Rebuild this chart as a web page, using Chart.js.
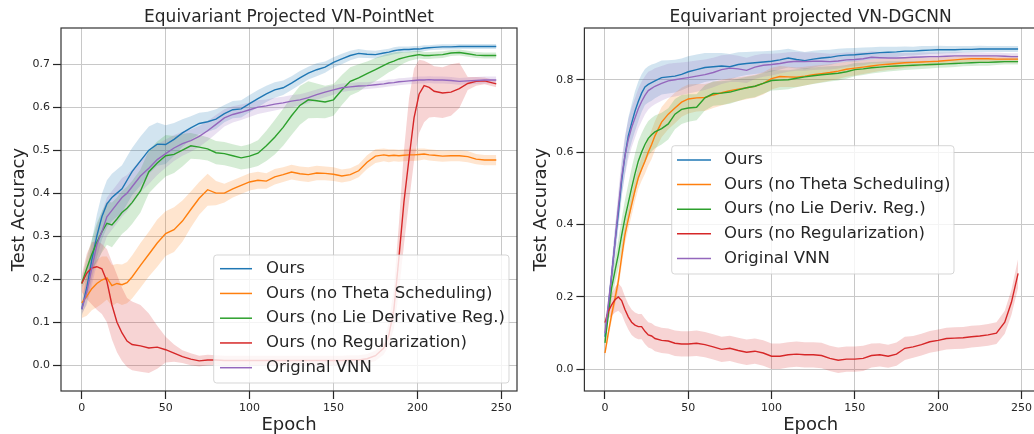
<!DOCTYPE html>
<html>
<head>
<meta charset="utf-8">
<script src="https://cdn.jsdelivr.net/npm/chart.js@4"></script>
<style>
  html, body { margin: 0; padding: 0; background: #fff; overflow: hidden; width: 1034px; height: 434px; }
  .panel { position: absolute; top: 0; width: 522px; height: 434px; }
</style>
</head>
<body>
<div class="panel" style="left:0"><canvas id="left" width="522" height="434"></canvas></div>
<div class="panel" style="left:522px"><canvas id="right" width="522" height="434"></canvas></div>
<script>
// 左: VN-PointNet / 右: VN-DGCNN。平均線と ±std の帯を図から読み取った値

const X_TICKS = [0, 50, 100, 150, 200, 250];
const L_Y_TICKS = [0, 0.1, 0.2, 0.3, 0.4, 0.5, 0.6, 0.7];
const R_Y_TICKS = [0, 0.2, 0.4, 0.6, 0.8];

const L_NAMES = ['Ours', 'Ours (no Theta Scheduling)', 'Ours (no Lie Derivative Reg.)', 'Ours (no Regularization)', 'Original VNN'];
const R_NAMES = ['Ours', 'Ours (no Theta Scheduling)', 'Ours (no Lie Deriv. Reg.)', 'Ours (no Regularization)', 'Original VNN'];

// ---- left panel ----
const L_EPOCHS = [
  0, 3, 6, 9, 12, 15, 18, 21, 24, 27,
  30, 35, 40, 45, 50, 55, 60, 65, 70, 75,
  80, 85, 90, 95, 100, 105, 110, 115, 120, 125,
  130, 135, 140, 145, 150, 155, 160, 165, 170, 175,
  180, 183, 186, 189, 192, 195, 198, 201, 204, 207,
  210, 215, 220, 225, 230, 235, 240, 247];

const L_OURS = [
  0.13, 0.18, 0.245, 0.30, 0.345, 0.375, 0.39, 0.40, 0.41, 0.43,
  0.45, 0.475, 0.50, 0.514, 0.513, 0.525, 0.54, 0.552, 0.562, 0.566,
  0.572, 0.585, 0.594, 0.596, 0.608, 0.62, 0.631, 0.64, 0.645, 0.656,
  0.668, 0.679, 0.687, 0.693, 0.704, 0.712, 0.72, 0.725, 0.723, 0.722,
  0.726, 0.728, 0.731, 0.733, 0.734, 0.734, 0.735, 0.735, 0.737, 0.738,
  0.739, 0.74, 0.74, 0.741, 0.741, 0.741, 0.741, 0.741];
const L_OURS_STD = [
  0.015, 0.035, 0.045, 0.05, 0.053, 0.055, 0.055, 0.055, 0.055, 0.055,
  0.055, 0.057, 0.055, 0.05, 0.045, 0.038, 0.032, 0.027, 0.025, 0.023,
  0.023, 0.02, 0.02, 0.02, 0.02, 0.02, 0.019, 0.018, 0.017, 0.016,
  0.016, 0.015, 0.015, 0.013, 0.012, 0.012, 0.011, 0.01, 0.009, 0.009,
  0.008, 0.008, 0.008, 0.008, 0.007, 0.007, 0.007, 0.007, 0.007, 0.006,
  0.006, 0.006, 0.006, 0.006, 0.006, 0.006, 0.006, 0.006];

const L_THETA = [
  0.145, 0.16, 0.178, 0.19, 0.198, 0.203, 0.185, 0.19, 0.187, 0.192,
  0.205, 0.232, 0.258, 0.284, 0.306, 0.315, 0.335, 0.362, 0.388, 0.408,
  0.40, 0.40, 0.41, 0.418, 0.426, 0.43, 0.428, 0.438, 0.443, 0.449,
  0.445, 0.443, 0.447, 0.446, 0.444, 0.44, 0.443, 0.452, 0.472, 0.486,
  0.489, 0.487, 0.488, 0.487, 0.488, 0.489, 0.489, 0.49, 0.491, 0.489,
  0.488, 0.486, 0.487, 0.487, 0.485, 0.479, 0.477, 0.477];
const L_THETA_STD = [
  0.035, 0.045, 0.05, 0.055, 0.055, 0.05, 0.048, 0.045, 0.047, 0.048,
  0.05, 0.052, 0.052, 0.055, 0.052, 0.052, 0.048, 0.042, 0.038, 0.037,
  0.028, 0.022, 0.02, 0.02, 0.02, 0.02, 0.018, 0.018, 0.017, 0.017,
  0.017, 0.017, 0.017, 0.016, 0.016, 0.015, 0.015, 0.015, 0.016, 0.016,
  0.015, 0.015, 0.014, 0.014, 0.014, 0.014, 0.014, 0.014, 0.013, 0.013,
  0.013, 0.013, 0.013, 0.013, 0.013, 0.012, 0.012, 0.012];

const L_LIE = [
  0.19, 0.225, 0.258, 0.285, 0.31, 0.33, 0.326, 0.34, 0.355, 0.365,
  0.378, 0.405, 0.45, 0.47, 0.487, 0.49, 0.50, 0.51, 0.507, 0.503,
  0.494, 0.492, 0.487, 0.482, 0.486, 0.493, 0.51, 0.53, 0.553, 0.58,
  0.604, 0.617, 0.615, 0.612, 0.617, 0.64, 0.66, 0.668, 0.678, 0.687,
  0.697, 0.703, 0.707, 0.712, 0.715, 0.718, 0.72, 0.722, 0.72, 0.72,
  0.721, 0.722, 0.726, 0.727, 0.724, 0.721, 0.72, 0.72];
const L_LIE_STD = [
  0.01, 0.025, 0.035, 0.045, 0.048, 0.05, 0.052, 0.05, 0.05, 0.05,
  0.05, 0.05, 0.05, 0.05, 0.048, 0.043, 0.038, 0.03, 0.028, 0.027,
  0.027, 0.027, 0.027, 0.027, 0.028, 0.03, 0.035, 0.04, 0.043, 0.045,
  0.045, 0.043, 0.04, 0.038, 0.037, 0.035, 0.033, 0.032, 0.028, 0.027,
  0.024, 0.022, 0.02, 0.017, 0.013, 0.011, 0.01, 0.009, 0.008, 0.008,
  0.008, 0.008, 0.007, 0.007, 0.007, 0.007, 0.007, 0.007];

const L_NOREG = [
  0.19, 0.214, 0.226, 0.229, 0.224, 0.195, 0.14, 0.10, 0.075, 0.056,
  0.048, 0.045, 0.04, 0.042, 0.036, 0.028, 0.02, 0.014, 0.01, 0.012,
  0.012, 0.011, 0.011, 0.011, 0.011, 0.011, 0.011, 0.011, 0.011, 0.011,
  0.011, 0.011, 0.011, 0.011, 0.011, 0.011, 0.012, 0.012, 0.015, 0.022,
  0.04, 0.07, 0.13, 0.25, 0.38, 0.48, 0.575, 0.63, 0.65, 0.646,
  0.637, 0.633, 0.635, 0.643, 0.655, 0.66, 0.661, 0.654];
// この系列だけ帯が上下非対称
const L_NOREG_UP = [
  0.02, 0.045, 0.06, 0.06, 0.058, 0.075, 0.10, 0.11, 0.105, 0.10,
  0.10, 0.095, 0.08, 0.05, 0.03, 0.02, 0.015, 0.014, 0.012, 0.012,
  0.011, 0.011, 0.011, 0.011, 0.011, 0.011, 0.011, 0.011, 0.011, 0.011,
  0.011, 0.011, 0.011, 0.011, 0.011, 0.011, 0.011, 0.011, 0.011, 0.012,
  0.015, 0.03, 0.05, 0.08, 0.12, 0.14, 0.115, 0.08, 0.058, 0.056,
  0.058, 0.06, 0.065, 0.06, 0.015, 0.01, 0.008, 0.008];
const L_NOREG_DOWN = [
  0.02, 0.06, 0.085, 0.10, 0.105, 0.095, 0.08, 0.07, 0.065, 0.06,
  0.06, 0.06, 0.058, 0.05, 0.03, 0.02, 0.015, 0.014, 0.013, 0.012,
  0.011, 0.011, 0.011, 0.011, 0.011, 0.011, 0.011, 0.011, 0.011, 0.011,
  0.011, 0.011, 0.011, 0.011, 0.011, 0.011, 0.011, 0.011, 0.011, 0.012,
  0.015, 0.025, 0.045, 0.08, 0.10, 0.10, 0.10, 0.09, 0.085, 0.07,
  0.06, 0.058, 0.055, 0.045, 0.015, 0.01, 0.008, 0.008];

const L_VNN = [
  0.13, 0.17, 0.225, 0.28, 0.31, 0.345, 0.36, 0.375, 0.39, 0.40,
  0.415, 0.44, 0.458, 0.478, 0.492, 0.505, 0.515, 0.522, 0.532, 0.545,
  0.56, 0.575, 0.583, 0.588, 0.594, 0.6, 0.603, 0.607, 0.61, 0.614,
  0.617, 0.622, 0.629, 0.635, 0.64, 0.645, 0.647, 0.649, 0.65, 0.652,
  0.654, 0.656, 0.657, 0.659, 0.66, 0.661, 0.662, 0.663, 0.663, 0.664,
  0.663, 0.663, 0.662, 0.66, 0.661, 0.662, 0.663, 0.663];
const L_VNN_STD = [
  0.01, 0.03, 0.04, 0.045, 0.045, 0.045, 0.045, 0.045, 0.045, 0.042,
  0.04, 0.038, 0.037, 0.036, 0.033, 0.03, 0.028, 0.026, 0.024, 0.023,
  0.022, 0.02, 0.019, 0.018, 0.017, 0.016, 0.015, 0.015, 0.014, 0.014,
  0.013, 0.013, 0.012, 0.012, 0.011, 0.01, 0.009, 0.009, 0.008, 0.008,
  0.008, 0.008, 0.008, 0.008, 0.008, 0.008, 0.008, 0.008, 0.008, 0.008,
  0.008, 0.008, 0.008, 0.008, 0.008, 0.008, 0.008, 0.008];

// ---- right panel ----
const R_EPOCHS = [
  0, 2, 4, 6, 8, 10, 12, 14, 16, 18,
  20, 22, 24, 26, 28, 30, 34, 38, 42, 46,
  50, 55, 60, 65, 70, 75, 80, 85, 90, 95,
  100, 105, 110, 115, 120, 125, 130, 135, 140, 145,
  150, 155, 160, 165, 170, 175, 180, 185, 190, 195,
  200, 205, 210, 215, 220, 225, 230, 235, 240, 244,
  248];

const R_OURS = [
  0.09, 0.17, 0.26, 0.35, 0.43, 0.52, 0.59, 0.645, 0.68, 0.713,
  0.74, 0.763, 0.78, 0.787, 0.792, 0.797, 0.806, 0.808, 0.81, 0.815,
  0.822, 0.828, 0.834, 0.836, 0.838, 0.836, 0.842, 0.845, 0.847, 0.849,
  0.851, 0.855, 0.86, 0.856, 0.853, 0.857, 0.86, 0.862, 0.866, 0.868,
  0.869, 0.871, 0.873, 0.875, 0.876, 0.877, 0.879, 0.879, 0.881, 0.882,
  0.883, 0.883, 0.883, 0.884, 0.884, 0.885, 0.885, 0.885, 0.885, 0.885,
  0.885];
const R_OURS_STD = [
  0.01, 0.02, 0.03, 0.04, 0.04, 0.045, 0.05, 0.05, 0.052, 0.055,
  0.055, 0.052, 0.05, 0.05, 0.05, 0.048, 0.047, 0.046, 0.045, 0.044,
  0.043, 0.042, 0.04, 0.038, 0.036, 0.035, 0.034, 0.032, 0.031, 0.03,
  0.029, 0.027, 0.026, 0.025, 0.024, 0.023, 0.022, 0.021, 0.02, 0.019,
  0.019, 0.018, 0.017, 0.016, 0.015, 0.014, 0.013, 0.012, 0.012, 0.011,
  0.011, 0.01, 0.01, 0.009, 0.009, 0.009, 0.008, 0.008, 0.008, 0.008,
  0.008];

const R_THETA = [
  0.045, 0.1, 0.151, 0.195, 0.243, 0.31, 0.372, 0.415, 0.455, 0.494,
  0.529, 0.553, 0.575, 0.6, 0.621, 0.645, 0.683, 0.705, 0.722, 0.738,
  0.747, 0.75, 0.751, 0.758, 0.764, 0.77, 0.774, 0.778, 0.782, 0.79,
  0.803, 0.809, 0.808, 0.807, 0.81, 0.814, 0.817, 0.82, 0.824, 0.829,
  0.832, 0.835, 0.838, 0.841, 0.843, 0.845, 0.847, 0.848, 0.849, 0.85,
  0.851, 0.853, 0.855, 0.857, 0.858, 0.858, 0.858, 0.857, 0.857, 0.857,
  0.857];
const R_THETA_STD = [
  0.012, 0.015, 0.018, 0.02, 0.022, 0.025, 0.025, 0.028, 0.03, 0.03,
  0.03, 0.032, 0.035, 0.037, 0.04, 0.04, 0.042, 0.042, 0.042, 0.04,
  0.04, 0.038, 0.037, 0.036, 0.035, 0.034, 0.033, 0.032, 0.032, 0.031,
  0.03, 0.029, 0.028, 0.027, 0.026, 0.025, 0.024, 0.023, 0.022, 0.021,
  0.02, 0.019, 0.018, 0.017, 0.016, 0.015, 0.014, 0.013, 0.012, 0.012,
  0.011, 0.011, 0.01, 0.01, 0.01, 0.009, 0.009, 0.009, 0.009, 0.009,
  0.009];

const R_LIE = [
  0.073, 0.15, 0.225, 0.272, 0.317, 0.37, 0.418, 0.46, 0.501, 0.54,
  0.575, 0.6, 0.621, 0.638, 0.648, 0.656, 0.665, 0.678, 0.705, 0.718,
  0.722, 0.724, 0.75, 0.762, 0.763, 0.766, 0.772, 0.778, 0.782, 0.79,
  0.798, 0.799, 0.80, 0.804, 0.808, 0.811, 0.814, 0.816, 0.818, 0.822,
  0.828, 0.83, 0.833, 0.835, 0.837, 0.838, 0.839, 0.84, 0.841, 0.842,
  0.843, 0.844, 0.845, 0.846, 0.847, 0.848, 0.848, 0.849, 0.85, 0.85,
  0.85];
const R_LIE_STD = [
  0.01, 0.02, 0.03, 0.035, 0.04, 0.045, 0.05, 0.052, 0.055, 0.055,
  0.055, 0.052, 0.05, 0.048, 0.046, 0.045, 0.044, 0.043, 0.042, 0.04,
  0.038, 0.036, 0.035, 0.034, 0.033, 0.032, 0.031, 0.03, 0.03, 0.029,
  0.028, 0.027, 0.026, 0.025, 0.024, 0.023, 0.022, 0.021, 0.02, 0.019,
  0.018, 0.017, 0.016, 0.015, 0.014, 0.013, 0.012, 0.012, 0.011, 0.011,
  0.01, 0.01, 0.01, 0.009, 0.009, 0.009, 0.009, 0.008, 0.008, 0.008,
  0.008];

const R_NOREG = [
  0.129, 0.16, 0.178, 0.192, 0.2, 0.19, 0.165, 0.145, 0.13, 0.122,
  0.118, 0.118, 0.105, 0.095, 0.092, 0.085, 0.08, 0.078, 0.072, 0.07,
  0.07, 0.072, 0.068, 0.062, 0.055, 0.058, 0.052, 0.047, 0.05, 0.045,
  0.036, 0.036, 0.04, 0.042, 0.04, 0.04, 0.038, 0.03, 0.025, 0.028,
  0.028, 0.03, 0.038, 0.04, 0.036, 0.042, 0.058, 0.062, 0.068, 0.076,
  0.08, 0.085, 0.086, 0.087, 0.09, 0.092, 0.095, 0.1, 0.13, 0.185,
  0.265];
const R_NOREG_STD = [
  0.01, 0.02, 0.03, 0.035, 0.038, 0.037, 0.036, 0.035, 0.035, 0.035,
  0.035, 0.035, 0.035, 0.035, 0.035, 0.035, 0.035, 0.035, 0.035, 0.035,
  0.035, 0.035, 0.035, 0.035, 0.035, 0.035, 0.035, 0.035, 0.035, 0.035,
  0.035, 0.035, 0.035, 0.035, 0.035, 0.035, 0.035, 0.035, 0.035, 0.035,
  0.035, 0.035, 0.033, 0.032, 0.032, 0.032, 0.032, 0.03, 0.03, 0.03,
  0.03, 0.03, 0.03, 0.03, 0.03, 0.03, 0.03, 0.03, 0.032, 0.035,
  0.04];

const R_VNN = [
  0.1, 0.18, 0.26, 0.35, 0.445, 0.53, 0.59, 0.635, 0.668, 0.694,
  0.72, 0.74, 0.757, 0.77, 0.776, 0.782, 0.79, 0.797, 0.80, 0.803,
  0.806, 0.81, 0.814, 0.82, 0.828, 0.832, 0.83, 0.826, 0.835, 0.84,
  0.842, 0.845, 0.849, 0.851, 0.85, 0.851, 0.851, 0.85, 0.852, 0.855,
  0.856, 0.858, 0.862, 0.861, 0.86, 0.86, 0.861, 0.862, 0.863, 0.864,
  0.864, 0.865, 0.866, 0.866, 0.866, 0.866, 0.866, 0.866, 0.865, 0.864,
  0.864];
const R_VNN_STD = [
  0.01, 0.02, 0.03, 0.04, 0.045, 0.05, 0.055, 0.055, 0.055, 0.055,
  0.055, 0.055, 0.053, 0.052, 0.05, 0.05, 0.048, 0.047, 0.046, 0.045,
  0.044, 0.043, 0.042, 0.041, 0.04, 0.038, 0.036, 0.035, 0.033, 0.032,
  0.03, 0.028, 0.027, 0.026, 0.025, 0.024, 0.023, 0.022, 0.021, 0.02,
  0.019, 0.018, 0.017, 0.016, 0.015, 0.014, 0.013, 0.012, 0.012, 0.011,
  0.011, 0.01, 0.01, 0.01, 0.009, 0.009, 0.009, 0.009, 0.009, 0.009,
  0.009];

// matplotlib tab10
const COLORS = ['#1f77b4', '#ff7f0e', '#2ca02c', '#d62728', '#9467bd'];
const FONT = "'DejaVu Sans', sans-serif";
const TEXT = '#262626';

function rgba(hex, a) {
  const n = parseInt(hex.slice(1), 16);
  return `rgba(${n >> 16},${(n >> 8) & 255},${n & 255},${a})`;
}

// 平均線 + 帯（上端/下端の2データセットを '+1' で塗る）
function buildDatasets(epochs, series) {
  const bands = [];
  const lines = [];
  series.forEach((s, i) => {
    const c = COLORS[i];
    const down = s.down || s.up;
    bands.push({
      label: '_hi', data: epochs.map((x, k) => ({ x, y: s.mean[k] + s.up[k] })),
      borderWidth: 0, pointRadius: 0, fill: '+1', backgroundColor: rgba(c, 0.2), order: 20 - i,
    });
    bands.push({
      label: '_lo', data: epochs.map((x, k) => ({ x, y: s.mean[k] - down[k] })),
      borderWidth: 0, pointRadius: 0, fill: false, order: 20 - i,
    });
    lines.push({
      label: s.name, data: epochs.map((x, k) => ({ x, y: s.mean[k] })),
      borderColor: c, borderWidth: 1.4, pointRadius: 0, fill: false, order: 10 - i,
    });
  });
  return bands.concat(lines);
}

// 枠線（上下左右）
const frame = {
  id: 'frame',
  afterDatasetsDraw(chart) {
    const { ctx, chartArea: a } = chart;
    ctx.save();
    ctx.strokeStyle = '#333';
    ctx.lineWidth = 1.2;
    ctx.strokeRect(a.left, a.top, a.right - a.left, a.bottom - a.top);
    ctx.restore();
  },
};

// matplotlib 風の凡例（プロット内に半透明の箱）
const boxLegend = {
  id: 'boxLegend',
  afterDatasetsDraw(chart, args, o) {
    const ctx = chart.ctx;
    const items = chart.data.datasets.filter(d => !d.label.startsWith('_'));
    ctx.save();
    ctx.beginPath();
    ctx.roundRect(o.x, o.y, o.w, o.h, 3);
    ctx.fillStyle = 'rgba(255,255,255,0.8)';
    ctx.fill();
    ctx.strokeStyle = 'rgba(204,204,204,0.8)';
    ctx.lineWidth = 1;
    ctx.stroke();
    ctx.font = `${o.size}px ${FONT}`;
    ctx.textBaseline = 'middle';
    ctx.textAlign = 'left';
    items.forEach((d, i) => {
      const y = o.row0 + i * o.dy;
      ctx.beginPath();
      ctx.moveTo(o.lineX0, y);
      ctx.lineTo(o.lineX1, y);
      ctx.strokeStyle = d.borderColor;
      ctx.lineWidth = 1.5;
      ctx.stroke();
      ctx.fillStyle = TEXT;
      ctx.fillText(d.label, o.textX, y);
    });
    ctx.restore();
  },
};

function makeChart(id, cfg) {
  const grid = {
    color: '#c8c8c8', lineWidth: 1,
    drawTicks: true, tickLength: 8, tickColor: TEXT, tickWidth: 1.2,
  };
  return new Chart(document.getElementById(id), {
    type: 'line',
    data: { datasets: buildDatasets(cfg.epochs, cfg.series) },
    options: {
      responsive: false,
      animation: false,
      parsing: false,
      layout: { padding: { left: 0, top: 0, bottom: 0, right: cfg.padRight } },
      plugins: {
        legend: { display: false },
        tooltip: { enabled: false },
        title: {
          display: true, text: cfg.title, fullSize: false, color: TEXT,
          font: { family: FONT, size: 17, weight: 'normal', lineHeight: 1.2 },
          padding: { top: 7, bottom: 0.6 },
        },
        boxLegend: cfg.legend,
      },
      scales: {
        x: {
          type: 'linear', min: -12.35, max: 259.35,
          afterBuildTicks: s => { s.ticks = X_TICKS.map(v => ({ value: v })); },
          afterFit: s => { s.height = 43; },
          grid, border: { display: false },
          ticks: { autoSkip: false, maxRotation: 0, padding: 3, color: TEXT, font: { family: FONT, size: 11 }, callback: v => String(v) },
          title: { display: true, text: 'Epoch', color: TEXT, font: { family: FONT, size: 18, lineHeight: 1 }, padding: { top: 0, bottom: 0 } },
        },
        y: {
          type: 'linear', min: cfg.yMin, max: cfg.yMax,
          afterBuildTicks: s => { s.ticks = cfg.yTicks.map(v => ({ value: v })); },
          afterFit: s => { s.width = cfg.yWidth; },
          grid, border: { display: false },
          ticks: { autoSkip: false, padding: 3, color: TEXT, font: { family: FONT, size: 11 }, callback: v => v.toFixed(1) },
          title: { display: true, text: 'Test Accuracy', color: TEXT, font: { family: FONT, size: 18, lineHeight: 1 }, padding: { top: 10, bottom: 0 } },
        },
      },
    },
    plugins: [frame, boxLegend],
  });
}

makeChart('left', {
  title: 'Equivariant Projected VN-PointNet',
  epochs: L_EPOCHS,
  series: [
    { name: L_NAMES[0], mean: L_OURS, up: L_OURS_STD },
    { name: L_NAMES[1], mean: L_THETA, up: L_THETA_STD },
    { name: L_NAMES[2], mean: L_LIE, up: L_LIE_STD },
    { name: L_NAMES[3], mean: L_NOREG, up: L_NOREG_UP, down: L_NOREG_DOWN },
    { name: L_NAMES[4], mean: L_VNN, up: L_VNN_STD },
  ],
  yMin: -0.06, yMax: 0.784, yTicks: L_Y_TICKS, yWidth: 61, padRight: 5,
  legend: { x: 213.7, y: 255, w: 295.3, h: 128, lineX0: 220, lineX1: 252, textX: 266, row0: 268.7, dy: 24.75, size: 16.5 },
});

makeChart('right', {
  title: 'Equivariant projected VN-DGCNN',
  epochs: R_EPOCHS,
  series: [
    { name: R_NAMES[0], mean: R_OURS, up: R_OURS_STD },
    { name: R_NAMES[1], mean: R_THETA, up: R_THETA_STD },
    { name: R_NAMES[2], mean: R_LIE, up: R_LIE_STD },
    { name: R_NAMES[3], mean: R_NOREG, up: R_NOREG_STD },
    { name: R_NAMES[4], mean: R_VNN, up: R_VNN_STD },
  ],
  yMin: -0.06, yMax: 0.943, yTicks: R_Y_TICKS, yWidth: 62.4, padRight: 7,
  legend: { x: 149.7, y: 145.7, w: 282.3, h: 128.3, lineX0: 155, lineX1: 189, textX: 202, row0: 160, dy: 24.6, size: 16.5 },
});
</script>
</body>
</html>
